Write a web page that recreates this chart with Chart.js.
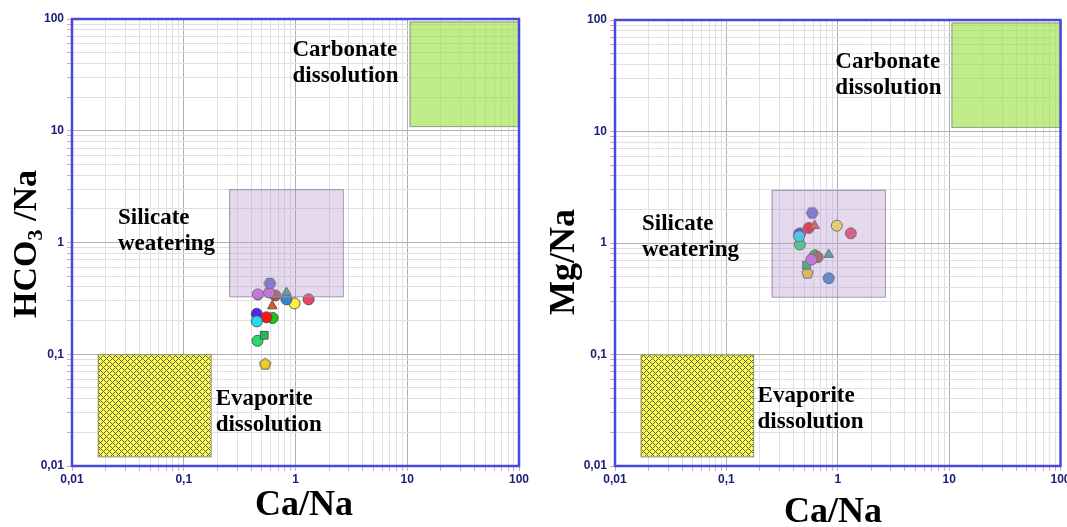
<!DOCTYPE html>
<html><head><meta charset="utf-8">
<script src="https://cdn.jsdelivr.net/npm/chart.js@4"></script>
<style>
body{margin:0;background:#fff;width:1067px;height:527px;overflow:hidden;position:relative}
canvas{position:absolute;top:0}
#c1{left:0}#c2{left:534px}
</style></head><body>
<canvas id="c1" width="533" height="527"></canvas>
<canvas id="c2" width="533" height="527"></canvas>
<script>
// sample values
const caNa   = [0.59, 0.46, 0.58, 0.66, 0.83, 0.83, 0.98, 1.31, 0.62, 0.45, 0.45, 0.55, 0.625, 0.525, 0.457, 0.535];
const hco3Na = [0.43, 0.343, 0.357, 0.336, 0.357, 0.31, 0.285, 0.31, 0.27, 0.23, 0.197, 0.214, 0.211, 0.148, 0.132, 0.0815];
const mgNa   = [1.86, 1.22, 0.71, 0.745, 0.787, 0.483, 1.43, 1.22, 1.43, 1.205, 1.148, 1.365, 0.776, 0.631, 0.968, 0.536];
const pointColors = ['#6a6ad8','#cc66dd','#cc66dd','#a05a40','#33aa88','#3388cc','#ffee44','#ee4466','#ee5511','#5522ee','#22ddee','#ff1111','#11cc11','#22bb55','#22dd66','#eecc22'];
const pointShapes = ['hexagon','circle','circle','circle','triangle','circle','circle','circle','triangle','circle','circle','circle','circle','rect','circle','pentagon'];
// draw order (later = on top)
const drawOrder = [10,9,1,0,2,3,4,5,6,7,8,11,12,13,14,15];
// axis ticks: 1..9 x 10^n, labels on decades
const decades = [0.01, 0.1, 1, 10, 100];
const tickValues = [];
decades.slice(0,4).forEach(d=>{ for(let m=1;m<10;m++) tickValues.push(Number((m*d).toPrecision(3))); });
tickValues.push(100);

// ranges [xmin, xmax, ymin, ymax]
const carbonateBox = [10.5, 100, 11, 95];
const silicateBox  = [0.255, 2.65, 0.33, 3];
const evaporiteBox = [0.017, 0.174, 0.0122, 0.1];

const isDecade = v => decades.includes(v);

function polyImg(n, color, rot){
  const c=document.createElement('canvas'); c.width=c.height=15;
  const g=c.getContext('2d');
  g.beginPath();
  for(let i=0;i<n;i++){ const a=rot+i*2*Math.PI/n; const px=7.5+6*Math.cos(a), py=7.5+6*Math.sin(a); i?g.lineTo(px,py):g.moveTo(px,py); }
  g.closePath(); g.fillStyle=color; g.fill(); g.strokeStyle='#555'; g.lineWidth=1; g.stroke();
  return c;
}
function styleFor(i){
  const s=pointShapes[i];
  if(s==='hexagon') return polyImg(6, pointColors[i], 0);
  if(s==='pentagon') return polyImg(5, pointColors[i], -Math.PI/2);
  return s;
}

const hatch=(()=>{
  const c=document.createElement('canvas'); c.width=c.height=6;
  const g=c.getContext('2d');
  g.fillStyle='#ffff5c'; g.fillRect(0,0,6,6);
  g.fillStyle='#626230';
  [[0,0],[2,0],[1,1],[0,2],[2,2]].forEach(([a,b])=>{g.fillRect(a,b,1,1);g.fillRect(a+3,b+3,1,1);});
  return c;
})();

function logAxis(size, isY){
  return {
    type:'logarithmic', min:0.01, max:100,
    afterBuildTicks: s => { s.ticks = tickValues.map(v=>({value:v, major:isDecade(v)})); },
    afterFit: s => { if(isY) s.width=size; else { s.height=size; s.paddingLeft=0; s.paddingRight=0; } },
    grid:{color:c=>isDecade(c.tick.value)?'#b0b0b0':'#e0e0e0', tickLength:5, tickColor:'#e3a3a3'},
    border:{display:false},
    ticks:{autoSkip:false, maxRotation:0, padding:isY?3:1, color:'#1c1c7a',
      font:{family:'Liberation Sans', weight:'bold', size:12},
      callback:v=>isDecade(v)?String(v).replace('.',','):''}
  };
}

function makePlugin(cfg){
  const rect=(chart,b,fill,stroke)=>{
    const {ctx,scales:{x,y}}=chart;
    const l=x.getPixelForValue(b[0]), r=x.getPixelForValue(b[1]);
    const t=y.getPixelForValue(b[3]), btm=y.getPixelForValue(b[2]);
    ctx.fillStyle=fill; ctx.fillRect(l,t,r-l,btm-t);
    ctx.strokeStyle=stroke; ctx.lineWidth=1; ctx.strokeRect(l+0.5,t+0.5,r-l,btm-t);
  };
  return {
    id:'decor',
    beforeDatasetsDraw(chart){
      const ctx=chart.ctx; ctx.save();
      rect(chart,carbonateBox,'rgba(150,225,60,0.6)','#8a9a80');
      rect(chart,evaporiteBox,ctx.createPattern(hatch,'repeat'),'#8a8a70');
      ctx.restore();
    },
    afterDatasetsDraw(chart){
      const {ctx,chartArea:a,scales:{x,y}}=chart; ctx.save();
      rect(chart,silicateBox,'rgba(180,150,205,0.36)','#9a90a8');
      ctx.fillStyle='#000'; ctx.font='bold 23px "Liberation Serif"'; ctx.textBaseline='middle'; ctx.textAlign='left';
      cfg.labels.forEach(L=>{
        const px=x.getPixelForValue(L.x), py=y.getPixelForValue(L.y);
        L.lines.forEach((t,i)=>ctx.fillText(t,px,py+i*26));
      });
      ctx.strokeStyle='#4848e0'; ctx.lineWidth=2.5;
      ctx.strokeRect(a.left,a.top,a.right-a.left,a.bottom-a.top);
      // axis titles
      ctx.textAlign='center';
      ctx.font='bold 36px "Liberation Serif"';
      ctx.fillText('Ca/Na',cfg.xTitle[0],cfg.xTitle[1]);
      ctx.translate(cfg.yTitlePos[0],cfg.yTitlePos[1]); ctx.rotate(-Math.PI/2);
      ctx.textAlign='left';
      let w=0; cfg.yTitle.forEach(p=>{ctx.font=`bold ${p[1]}px "Liberation Serif"`; w+=ctx.measureText(p[0]).width;});
      let cx=-w/2;
      cfg.yTitle.forEach(p=>{ctx.font=`bold ${p[1]}px "Liberation Serif"`; ctx.fillText(p[0],cx,p[2]); cx+=ctx.measureText(p[0]).width;});
      ctx.restore();
    }
  };
}

function makeChart(id, yVals, yAxisW, pad, cfg){
  const datasets=drawOrder.map(i=>({
    data:[{x:caNa[i], y:yVals[i]}],
    pointStyle:styleFor(i), pointRadius:5.5,
    backgroundColor:pointColors[i], borderColor:'#555', borderWidth:1
  }));
  return new Chart(document.getElementById(id),{
    type:'scatter',
    data:{datasets},
    options:{
      responsive:false, devicePixelRatio:1, animation:false,
      layout:{padding:pad},
      plugins:{legend:{display:false}, tooltip:{enabled:false}},
      scales:{x:logAxis(61,false), y:logAxis(yAxisW,true)}
    },
    plugins:[makePlugin(cfg)]
  });
}

makeChart('c1', hco3Na, 72, {top:19,right:14,bottom:0,left:0},{
  labels:[
    {lines:['Carbonate','dissolution'], x:0.94, y:52.7},
    {lines:['Silicate','weatering'], x:0.0258, y:1.65},
    {lines:['Evaporite','dissolution'], x:0.193, y:0.0396}
  ],
  xTitle:[304,506], yTitlePos:[27,244],
  yTitle:[['HCO',34,0],['3',22,9],[' /Na',34,0]]
});
makeChart('c2', mgNa, 81, {top:20,right:5,bottom:0,left:0},{
  labels:[
    {lines:['Carbonate','dissolution'], x:0.952, y:42.1},
    {lines:['Silicate','weatering'], x:0.01746, y:1.49},
    {lines:['Evaporite','dissolution'], x:0.1905, y:0.0422}
  ],
  xTitle:[299,513], yTitlePos:[31,262],
  yTitle:[['Mg/Na',36,0]]
});
</script></body></html>
